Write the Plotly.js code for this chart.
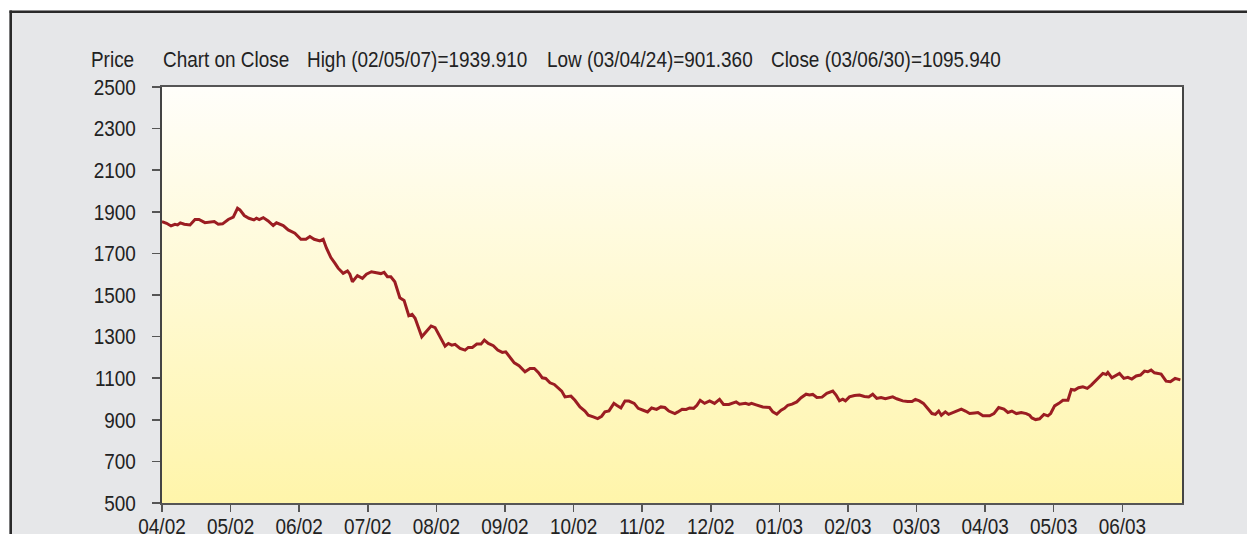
<!DOCTYPE html>
<html>
<head>
<meta charset="utf-8">
<script src="https://cdn.plot.ly/plotly-3.0.1.min.js"></script>
<style>html,body{margin:0;padding:0;background:#fff;}#chart{width:1247px;height:534px;}</style>
</head>
<body>
<div id="chart"></div>
<script>
// Position of each close, in months since the start of April 2002
const tMonths = [0.00,0.067,0.131,0.189,0.227,0.267,0.325,0.408,0.481,0.539,0.626,0.723,0.762,0.820,0.883,0.966,
1.039,1.101,1.136,1.199,1.267,1.340,1.378,1.417,1.476,1.548,1.621,1.669,1.767,1.840,1.937,
2.025,2.098,2.156,2.218,2.302,2.350,2.398,2.462,2.520,2.568,2.641,2.704,2.739,2.776,2.849,2.922,2.980,
3.053,3.126,3.190,3.238,3.286,3.336,3.394,3.467,3.529,3.598,3.646,3.690,3.741,3.787,3.860,3.923,3.981,
4.054,4.127,4.175,4.224,4.272,4.345,4.418,4.466,4.524,4.589,4.651,4.699,4.757,4.830,4.894,4.961,
5.011,5.074,5.136,5.205,5.292,5.365,5.428,5.486,5.544,5.594,5.656,5.719,5.777,5.827,5.875,5.962,
6.020,6.093,6.166,6.214,6.287,6.351,6.409,6.457,6.516,6.588,6.628,6.690,6.749,6.807,6.884,6.942,
7.015,7.079,7.138,7.210,7.273,7.331,7.389,7.477,7.521,7.583,7.642,7.691,7.750,7.798,7.846,7.910,7.983,
8.055,8.128,8.186,8.264,8.322,8.370,8.420,8.507,8.555,8.594,8.661,8.759,8.856,8.905,8.963,
9.026,9.075,9.123,9.186,9.254,9.317,9.390,9.439,9.487,9.546,9.623,9.691,9.779,9.827,9.876,9.924,9.964,
10.022,10.095,10.168,10.240,10.303,10.361,10.420,10.482,10.546,10.605,10.653,10.711,10.798,10.871,10.934,10.983,
11.041,11.100,11.167,11.225,11.275,11.323,11.362,11.420,11.468,11.531,11.604,11.653,11.712,11.774,11.847,11.895,11.968,
12.066,12.128,12.197,12.274,12.332,12.390,12.455,12.527,12.600,12.648,12.682,12.736,12.794,12.857,12.915,12.955,
13.013,13.075,13.134,13.207,13.256,13.304,13.362,13.425,13.489,13.547,13.605,13.668,13.716,13.765,13.789,13.847,13.911,13.959,
14.022,14.080,14.138,14.202,14.265,14.323,14.371,14.420,14.468,14.516,14.566,14.638,14.701,14.769,14.846];

const closePrice = [1853,1845,1832,1840,1837,1847,1840,1837,1863,1863,1848,1850,1853,1840,1842,1863,
1874,1917,1909,1882,1869,1861,1869,1863,1872,1856,1834,1847,1834,1813,1797,
1768,1768,1781,1768,1760,1768,1725,1680,1653,1629,1604,1616,1600,1564,1593,1580,1600,
1612,1607,1603,1609,1588,1588,1564,1487,1474,1400,1407,1388,1340,1299,1327,1351,1343,
1299,1254,1267,1259,1263,1243,1235,1248,1248,1264,1264,1283,1267,1256,1235,1224,
1227,1198,1174,1160,1131,1147,1147,1128,1102,1099,1078,1070,1054,1038,1010,1014,
994,962,942,922,914,906,917,938,943,979,970,957,990,990,979,955,
946,938,957,950,962,959,942,930,938,951,950,957,955,970,994,979,991,
979,998,974,974,979,986,975,979,974,979,972,962,959,938,927,
946,955,970,975,986,1006,1023,1019,1022,1007,1009,1027,1038,1019,991,999,991,
1010,1017,1019,1012,1010,1023,1003,1007,1001,1004,1010,1001,991,988,988,998,
991,979,951,930,926,942,922,938,926,935,946,951,942,930,933,935,919,
919,930,959,951,935,942,930,935,930,922,909,901,905,926,919,930,
967,979,994,994,1046,1043,1054,1059,1051,1067,1087,1111,1123,1118,1128,1102,1115,1123,
1099,1104,1096,1111,1115,1134,1131,1139,1126,1123,1120,1086,1083,1099,1092];

const monthLabels = ['04/02','05/02','06/02','07/02','08/02','09/02','10/02','11/02','12/02','01/03','02/03','03/03','04/03','05/03','06/03'];
const priceTicks = [500,700,900,1100,1300,1500,1700,1900,2100,2300,2500];
const headerParts = ['Chart on Close','High (02/05/07)=1939.910','Low (03/04/24)=901.360','Close (03/06/30)=1095.940'];
const headerPx = [161, 305, 545, 769];

const X_MAX = 14.87, Y_MIN = 500, Y_MAX = 2500;
const W = 1247, H = 534, ML = 162, MR = 65, MT = 87, MB = 31;
const PW = W - ML - MR, PH = H - MT - MB;
const px2x = p => (p - ML) / PW;
const py2y = p => (H - MB - p) / PH;

const FONT = '"Liberation Sans",Arial,Helvetica,sans-serif';
const CONDENSE = 0.86;

const bg = {
  x: [0, X_MAX, X_MAX, 0, 0], y: [Y_MIN, Y_MIN, Y_MAX, Y_MAX, Y_MIN],
  type: 'scatter', mode: 'none', fill: 'toself', hoverinfo: 'skip', showlegend: false,
  fillgradient: {type: 'vertical', colorscale: [[0, '#fff5aa'], [1, '#fffefa']]}
};
const line = {
  x: tMonths, y: closePrice, type: 'scatter', mode: 'lines',
  line: {color: '#9b1d22', width: 3}, hoverinfo: 'skip', showlegend: false
};

const annotations = [{
  text: 'Price', xref: 'paper', yref: 'paper', x: px2x(136), y: py2y(60), align: 'right',
  xanchor: 'right', yanchor: 'middle', showarrow: false, font: {family: FONT, size: 22, color: '#222'}
}];
headerParts.forEach((t, i) => annotations.push({
  text: t, xref: 'paper', yref: 'paper', x: px2x(headerPx[i]), y: py2y(60), align: 'left',
  xanchor: 'left', yanchor: 'middle', showarrow: false, font: {family: FONT, size: 22, color: '#222'}
}));

const shapes = [
  {type: 'rect', xref: 'paper', yref: 'paper', x0: px2x(-2), x1: px2x(W + 2), y0: py2y(10.5), y1: py2y(-2), fillcolor: '#ffffff', line: {width: 0}},
  {type: 'rect', xref: 'paper', yref: 'paper', x0: px2x(-2), x1: px2x(9.5), y0: py2y(H + 2), y1: py2y(-2), fillcolor: '#ffffff', line: {width: 0}},
  {type: 'line', xref: 'paper', yref: 'paper', x0: px2x(9.5), x1: px2x(W + 2), y0: py2y(11.8), y1: py2y(11.8), line: {color: '#2a2a2a', width: 2.6}},
  {type: 'line', xref: 'paper', yref: 'paper', x0: px2x(10.7), x1: px2x(10.7), y0: py2y(10.5), y1: py2y(H + 2), line: {color: '#2a2a2a', width: 2.6}}
];

const layout = {
  width: W, height: H,
  margin: {l: ML, r: MR, t: MT, b: MB, pad: 0},
  paper_bgcolor: '#e6e7e9', plot_bgcolor: '#fffbe0',
  showlegend: false, hovermode: false,
  font: {family: FONT, size: 22, color: '#222'},
  xaxis: {
    range: [0, X_MAX], tickmode: 'array', tickvals: monthLabels.map((_, i) => i), ticktext: monthLabels,
    showgrid: false, zeroline: false, showline: true, mirror: true, linecolor: '#555', linewidth: 1.6,
    ticks: 'outside', ticklen: 7, tickwidth: 1.5, tickcolor: '#555', ticklabelstandoff: -4,
    tickfont: {family: FONT, size: 22, color: '#222'}, fixedrange: true
  },
  yaxis: {
    range: [Y_MIN, Y_MAX], tickmode: 'array', tickvals: priceTicks, ticktext: priceTicks.map(String),
    showgrid: false, zeroline: false, showline: true, mirror: true, linecolor: '#444', linewidth: 1.8,
    ticks: 'outside', ticklen: 8, tickwidth: 1.5, tickcolor: '#555', ticklabelstandoff: 12,
    tickfont: {family: FONT, size: 22, color: '#222'}, fixedrange: true
  },
  annotations: annotations,
  shapes: shapes
};

Plotly.newPlot('chart', [bg, line], layout, {displayModeBar: false, staticPlot: true}).then(gd => {
  // the reference uses a condensed sans face; squeeze the real text horizontally to match it
  gd.querySelectorAll('svg text').forEach(t => {
    const w = t.getComputedTextLength();
    if (w > 0) {
      t.setAttribute('textLength', (w * CONDENSE).toFixed(2));
      t.setAttribute('lengthAdjust', 'spacingAndGlyphs');
    }
  });
});
</script>
</body>
</html>
